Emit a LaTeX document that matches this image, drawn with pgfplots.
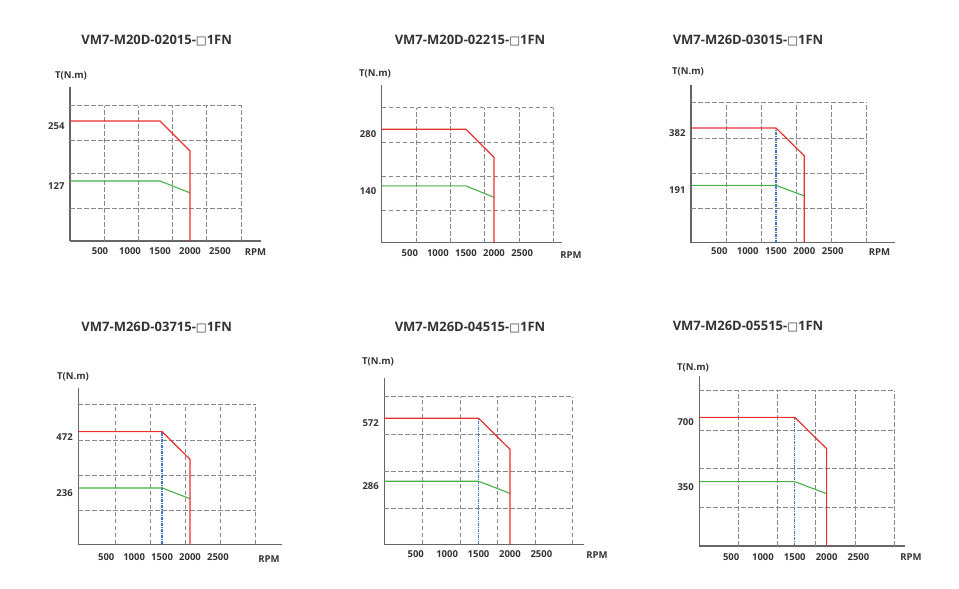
\documentclass[border=0pt]{standalone}
\usepackage{fontspec}
\setmainfont{Open Sans}
\newfontfamily\symfont{DejaVu Sans}
\usepackage{pgfplots}
\pgfplotsset{compat=1.18}
\definecolor{cred}{HTML}{E8302F}
\definecolor{cgreen}{HTML}{45B045}
\definecolor{cblue}{HTML}{4576C4}
\definecolor{cgrid}{HTML}{888888}
\definecolor{caxis}{HTML}{666666}
\definecolor{ctext}{HTML}{333333}
\newcommand{\tfont}{\fontsize{13}{16}\selectfont\bfseries}
\newcommand{\lfont}{\fontsize{9.5}{11}\selectfont\bfseries}
\newcommand{\sq}{{\symfont\fontsize{11.5}{12}\selectfont □}}
\pgfplotsset{
  motor/.style={
    scale only axis, anchor=south west,
    axis lines=left, axis line style={-, caxis, line width=1.5pt},
    xmin=0, ymin=0,
    major tick length=0,
    xtick={500,1000,1500,2000,2500},
    xticklabels={500,1000,1500,2000,2500},
    xticklabel style={anchor=center, font=\lfont, text=ctext},
    yticklabel style={anchor=east, yshift=-5pt, xshift=-2pt, font=\lfont, text=ctext},
    clip=false,
  },
  gridl/.style={cgrid, line width=0.9pt, dash pattern=on 4.5pt off 2.5pt, forget plot, unbounded coords=jump},
  redl/.style={cred, line width=1.2pt},
  greenl/.style={cgreen, line width=1.1pt},
  bluel/.style={cblue, line width=1.2pt, dash pattern=on 3pt off 1pt on 1pt off 1pt},
}
\begin{document}
\begin{tikzpicture}[x=1pt,y=1pt]
\useasboundingbox (0,0) rectangle (959,589);
% ---------------- chart 1
\begin{axis}[motor, at={(70pt,348pt)}, width=191pt, height=154.3pt,
  xmax=3183, ymax=326.6, ytick={127,254}, yticklabels={127,254},
  xticklabel style={yshift=-9.7pt}]
\addplot[gridl] coordinates {(567,0)(567,286.5) (nan,nan) (1139,0)(1139,286.5) (nan,nan) (1711,0)(1711,286.5) (nan,nan) (2278,0)(2278,286.5) (nan,nan) (2861,0)(2861,286.5) (nan,nan) (0,69.2)(2861,69.2) (nan,nan) (0,143.3)(2861,143.3) (nan,nan) (0,213.8)(2861,213.8) (nan,nan) (0,286.5)(2861,286.5)};
\addplot[greenl] coordinates {(0,127)(1500,127)(2000,102)};
\addplot[redl] coordinates {(0,254)(1500,254)(2000,190.5)(2000,0)};
\end{axis}
% ---------------- chart 2
\begin{axis}[motor, at={(381.7pt,346.3pt)}, width=180pt, height=157.7pt,
  xmax=3205, ymax=389, ytick={140,280}, yticklabels={140,280},
  xticklabel style={yshift=-10pt}]
\addplot[gridl] coordinates {(611,0)(611,333) (nan,nan) (1217,0)(1217,333) (nan,nan) (1828,0)(1828,333) (nan,nan) (2445,0)(2445,333) (nan,nan) (3056,0)(3056,333) (nan,nan) (0,79.8)(3056,79.8) (nan,nan) (0,164.5)(3056,164.5) (nan,nan) (0,247.5)(3056,247.5) (nan,nan) (0,333)(3056,333)};
\addplot[greenl] coordinates {(0,140)(1500,140)(2000,111.8)};
\addplot[redl] coordinates {(0,280)(1500,280)(2000,210.5)(2000,0)};
\end{axis}
% ---------------- chart 3
\begin{axis}[motor, at={(691pt,346.3pt)}, width=204pt, height=157.7pt,
  xmax=3600, ymax=525, ytick={191,382}, yticklabels={191,382},
  xticklabel style={yshift=-8pt}]
\addplot[gridl] coordinates {(629,0)(629,467) (nan,nan) (1235,0)(1235,467) (nan,nan) (1865,0)(1865,467) (nan,nan) (2482,0)(2482,467) (nan,nan) (3100,0)(3100,467) (nan,nan) (0,114.6)(3100,114.6) (nan,nan) (0,231)(3100,231) (nan,nan) (0,348)(3100,348) (nan,nan) (0,467)(3100,467)};
\addplot[bluel] coordinates {(1500,0)(1500,382)};
\addplot[greenl] coordinates {(0,191)(1500,191)(2000,155.6)};
\addplot[redl] coordinates {(0,382)(1500,382)(2000,289)(2000,0)};
\end{axis}
% ---------------- chart 4
\begin{axis}[motor, at={(78.3pt,44.7pt)}, width=203.4pt, height=156pt,
  xmax=3642, ymax=653.6, ytick={236,472}, yticklabels={236,472},
  xticklabel style={yshift=-13pt}]
\addplot[gridl] coordinates {(657,0)(657,584) (nan,nan) (1284,0)(1284,584) (nan,nan) (1910,0)(1910,584) (nan,nan) (2537,0)(2537,584) (nan,nan) (3176,0)(3176,584) (nan,nan) (0,143.8)(3176,143.8) (nan,nan) (0,290.5)(3176,290.5) (nan,nan) (0,437)(3176,437) (nan,nan) (0,584)(3176,584)};
\addplot[bluel] coordinates {(1500,0)(1500,472)};
\addplot[greenl] coordinates {(0,236)(1500,236)(2000,191)};
\addplot[redl] coordinates {(0,472)(1500,472)(2000,356)(2000,0)};
\end{axis}
% ---------------- chart 5
\begin{axis}[motor, at={(384.3pt,44.7pt)}, width=200pt, height=166pt,
  xmax=3183, ymax=753, ytick={286,572}, yticklabels={286,572},
  xticklabel style={yshift=-10pt}]
\addplot[gridl] coordinates {(605,0)(605,670) (nan,nan) (1204,0)(1204,670) (nan,nan) (1798,0)(1798,670) (nan,nan) (2398,0)(2398,670) (nan,nan) (2992,0)(2992,670) (nan,nan) (0,161.8)(2992,161.8) (nan,nan) (0,331)(2992,331) (nan,nan) (0,500)(2992,500) (nan,nan) (0,670)(2992,670)};
\addplot[bluel] coordinates {(1500,0)(1500,572)};
\addplot[greenl] coordinates {(0,286)(1500,286)(2000,231)};
\addplot[redl] coordinates {(0,572)(1500,572)(2000,431)(2000,0)};
\end{axis}
% ---------------- chart 6
\begin{axis}[motor, at={(699.3pt,43pt)}, width=205.7pt, height=170pt,
  xmax=3231, ymax=925, ytick={350,700}, yticklabels={350,700},
  xticklabel style={yshift=-10.7pt}]
\addplot[gridl] coordinates {(613,0)(613,845) (nan,nan) (1230,0)(1230,845) (nan,nan) (1832,0)(1832,845) (nan,nan) (2445,0)(2445,845) (nan,nan) (3063,0)(3063,845) (nan,nan) (0,210.4)(3063,210.4) (nan,nan) (0,420.8)(3063,420.8) (nan,nan) (0,631)(3063,631) (nan,nan) (0,845)(3063,845)};
\addplot[bluel] coordinates {(1500,0)(1500,700)};
\addplot[greenl] coordinates {(0,350)(1500,350)(2000,284.7)};
\addplot[redl] coordinates {(0,700)(1500,700)(2000,529.6)(2000,0)};
\end{axis}
% ---------------- titles and axis names
\begin{scope}[every node/.style={text=ctext, inner sep=0pt}]
\node[font=\tfont] at (156.7,548.3) {VM7-M20D-02015-\sq1FN};
\node[font=\tfont] at (470,548.3) {VM7-M20D-02215-\sq1FN};
\node[font=\tfont] at (748,548.3) {VM7-M26D-03015-\sq1FN};
\node[font=\tfont] at (156.7,261.7) {VM7-M26D-03715-\sq1FN};
\node[font=\tfont] at (470,261.7) {VM7-M26D-04515-\sq1FN};
\node[font=\tfont] at (748,262.3) {VM7-M26D-05515-\sq1FN};
\node[font=\lfont] at (71,513) {T(N.m)};
\node[font=\lfont] at (375,514.7) {T(N.m)};
\node[font=\lfont] at (688,517.3) {T(N.m)};
\node[font=\lfont] at (73,212.3) {T(N.m)};
\node[font=\lfont] at (378,227.3) {T(N.m)};
\node[font=\lfont] at (693,220.7) {T(N.m)};
\node[font=\lfont] at (255.5,337) {RPM};
\node[font=\lfont] at (571,334) {RPM};
\node[font=\lfont] at (879.5,337) {RPM};
\node[font=\lfont] at (269,30) {RPM};
\node[font=\lfont] at (597,34) {RPM};
\node[font=\lfont] at (911,32) {RPM};
\end{scope}
\end{tikzpicture}
\end{document}
